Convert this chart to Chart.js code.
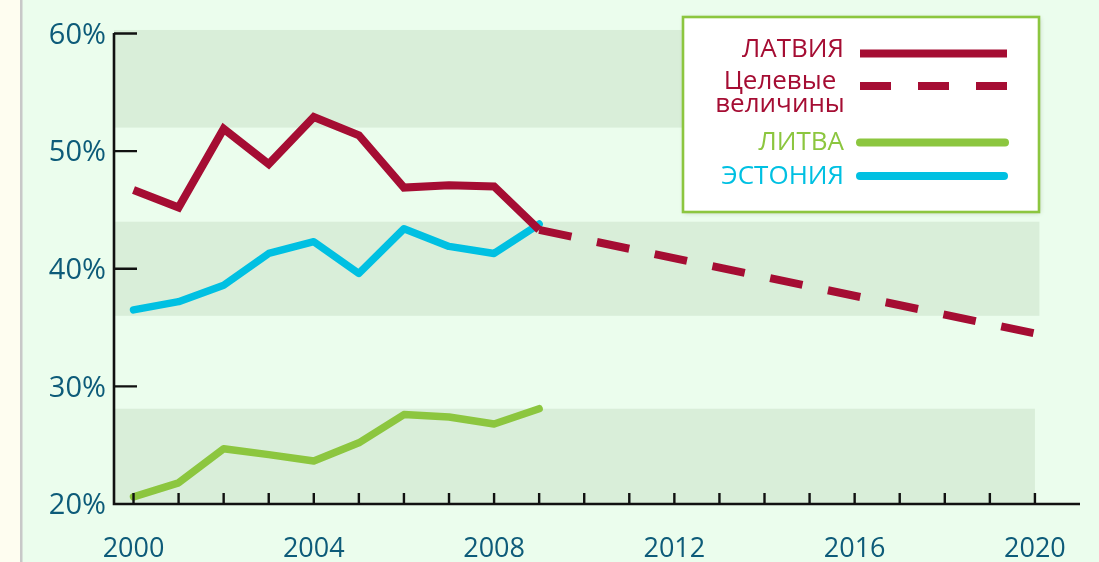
<!DOCTYPE html>
<html>
<head>
<meta charset="utf-8">
<script src="https://cdn.jsdelivr.net/npm/chart.js@4/dist/chart.umd.min.js"></script>
<style>
html,body{margin:0;padding:0;background:#fefdf0;overflow:hidden}
canvas{display:block}
</style>
</head>
<body>
<canvas id="c" width="1099" height="562"></canvas>
<script>
// ---- data ----
const years = [2000, 2001, 2002, 2003, 2004, 2005, 2006, 2007, 2008, 2009];
const latvia = [46.7, 45.2, 51.9, 48.9, 52.9, 51.35, 46.9, 47.1, 47.0, 43.3];
const estonia = [36.5, 37.2, 38.6, 41.3, 42.3, 39.6, 43.4, 41.9, 41.3, 43.8];
const lithuania = [20.6, 21.8, 24.7, 24.2, 23.65, 25.2, 27.6, 27.4, 26.8, 28.1];
const targetYears = [2009, 2020];
const latviaTarget = [43.3, 34.5];
const seriesNames = ['ЛАТВИЯ', 'Целевые величины', 'ЛИТВА', 'ЭСТОНИЯ'];
const yTickValues = [20, 30, 40, 50, 60];
const xTickYears = [2000, 2001, 2002, 2003, 2004, 2005, 2006, 2007, 2008, 2009, 2010,
                    2011, 2012, 2013, 2014, 2015, 2016, 2017, 2018, 2019, 2020];
const xLabelYears = [2000, 2004, 2008, 2012, 2016, 2020];
const bandLow = [52, 36, 20];
const bandHigh = [60.3, 44, 28.1];
const bandEndYear = [2020.1, 2020.1, 2020];

// ---- styles ----
const RED = '#a50d33';
const GREEN = '#8cc63f';
const CYAN = '#00c0e2';
const TEAL = '#0d5b79';
const BG = '#ebfded';
const BAND = '#d9eed9';
const FONT = '"Open Sans", "Noto Sans", sans-serif';

const pts = (xs, ys) => xs.map((x, i) => ({x: x, y: ys[i]}));

const backgroundPlugin = {
  id: 'bg',
  beforeDraw(chart) {
    const ctx = chart.ctx;
    ctx.save();
    ctx.fillStyle = '#fefdf0';
    ctx.fillRect(0, 0, chart.width, chart.height);
    ctx.fillStyle = BG;
    ctx.fillRect(22, 0, chart.width - 22, chart.height);
    ctx.fillStyle = '#c8c8c8';
    ctx.fillRect(20, 0, 2.5, chart.height);
    ctx.restore();
  },
  beforeDatasetsDraw(chart) {
    const ctx = chart.ctx, xs = chart.scales.x, ys = chart.scales.y;
    ctx.save();
    ctx.fillStyle = BAND;
    for (let i = 0; i < bandLow.length; i++) {
      const top = ys.getPixelForValue(bandHigh[i]);
      const bot = ys.getPixelForValue(bandLow[i]);
      const left = xs.left;
      const right = xs.getPixelForValue(bandEndYear[i]);
      ctx.fillRect(left, top, right - left, bot - top);
    }
    ctx.restore();
  },
  afterDatasetsDraw(chart) {
    const ctx = chart.ctx, xs = chart.scales.x, ys = chart.scales.y;
    const ax = xs.left, ay = ys.bottom;
    ctx.save();
    ctx.strokeStyle = '#111';
    ctx.lineWidth = 2.6;
    ctx.lineCap = 'butt';
    ctx.beginPath();
    ctx.moveTo(ax, ys.top - 0.5);
    ctx.lineTo(ax, ay + 1.3);
    ctx.moveTo(ax - 1.3, ay);
    ctx.lineTo(xs.right, ay);
    ctx.stroke();
    ctx.lineWidth = 2.4;
    ctx.beginPath();
    yTickValues.forEach(v => {
      if (v === 20) return;
      const y = ys.getPixelForValue(v);
      ctx.moveTo(ax, y);
      ctx.lineTo(ax + 23, y);
    });
    xTickYears.forEach(v => {
      const x = xs.getPixelForValue(v);
      ctx.moveTo(x, ay);
      ctx.lineTo(x, ay - 11);
    });
    ctx.stroke();
    ctx.restore();
  },
  afterDraw(chart) {
    const ctx = chart.ctx;
    const ds = chart.data.datasets;
    ctx.save();
    // legend box
    ctx.shadowColor = 'rgba(0,0,0,0.18)';
    ctx.shadowBlur = 5;
    ctx.shadowOffsetX = 1;
    ctx.shadowOffsetY = 1;
    ctx.fillStyle = '#ffffff';
    ctx.fillRect(683, 17, 356, 195);
    ctx.shadowColor = 'transparent';
    ctx.strokeStyle = GREEN;
    ctx.lineWidth = 2.6;
    ctx.strokeRect(683, 17, 356, 195);

    ctx.font = '26px ' + FONT;
    ctx.textBaseline = 'alphabetic';
    const drawLine = (d, y, x1, x2) => {
      ctx.save();
      ctx.strokeStyle = d.borderColor;
      ctx.lineWidth = 8;
      ctx.lineCap = d.borderCapStyle || 'butt';
      if (d.borderDash) ctx.setLineDash([31, 27]);
      ctx.beginPath();
      ctx.moveTo(x1, y);
      ctx.lineTo(x2, y);
      ctx.stroke();
      ctx.restore();
    };
    // ЛАТВИЯ
    ctx.fillStyle = ds[0].borderColor;
    ctx.textAlign = 'right';
    ctx.fillText(ds[0].label, 844, 57);
    drawLine(ds[0], 53.5, 860, 1007);
    // Целевые величины
    ctx.fillStyle = ds[1].borderColor;
    ctx.textAlign = 'center';
    const parts = ds[1].label.split(' ');
    ctx.fillText(parts[0], 780, 88.5);
    ctx.fillText(parts[1], 780, 111.5);
    drawLine(ds[1], 86, 860, 1007);
    // ЛИТВА
    ctx.fillStyle = ds[3].borderColor;
    ctx.textAlign = 'right';
    ctx.fillText(ds[3].label, 844, 150);
    drawLine(ds[3], 142.5, 860, 1005);
    // ЭСТОНИЯ
    ctx.fillStyle = ds[2].borderColor;
    ctx.fillText(ds[2].label, 844, 184);
    drawLine(ds[2], 176, 860, 1004);
    ctx.restore();
  }
};

new Chart(document.getElementById('c'), {
  type: 'line',
  data: {
    datasets: [
      {label: seriesNames[0], data: pts(years, latvia), borderColor: RED, borderWidth: 8,
       borderJoinStyle: 'miter', borderCapStyle: 'butt', pointRadius: 0},
      {label: seriesNames[1], data: pts(targetYears, latviaTarget), borderColor: RED, borderWidth: 8,
       borderDash: [33, 26], borderCapStyle: 'butt', pointRadius: 0},
      {label: seriesNames[3], data: pts(years, estonia), borderColor: CYAN, borderWidth: 7.5,
       borderJoinStyle: 'round', borderCapStyle: 'round', pointRadius: 0},
      {label: seriesNames[2], data: pts(years, lithuania), borderColor: GREEN, borderWidth: 7.5,
       borderJoinStyle: 'round', borderCapStyle: 'round', pointRadius: 0}
    ]
  },
  options: {
    responsive: false,
    animation: false,
    events: [],
    layout: {padding: {top: 33.5, right: 19, left: 0, bottom: 0}},
    plugins: {legend: {display: false}, tooltip: {enabled: false}},
    elements: {line: {tension: 0, fill: false}, point: {radius: 0}},
    scales: {
      x: {
        type: 'linear', min: 1999.567, max: 2021,
        grid: {display: false, drawTicks: false},
        border: {display: false},
        afterBuildTicks: s => { s.ticks = xTickYears.map(v => ({value: v})); },
        afterFit: s => { s.height = 58; },
        ticks: {
          autoSkip: false, maxRotation: 0, minRotation: 0, padding: 29, color: TEAL,
          font: {family: FONT, size: 27},
          callback: v => xLabelYears.includes(v) ? String(v) : ''
        }
      },
      y: {
        min: 20, max: 60,
        grid: {display: false, drawTicks: false},
        border: {display: false},
        afterBuildTicks: s => { s.ticks = yTickValues.map(v => ({value: v})); },
        afterFit: s => { s.width = 114; },
        ticks: {
          padding: 8, color: TEAL, labelOffset: 2,
          font: {family: FONT, size: 29},
          callback: v => v + '%'
        }
      }
    }
  },
  plugins: [backgroundPlugin]
});
</script>
</body>
</html>
